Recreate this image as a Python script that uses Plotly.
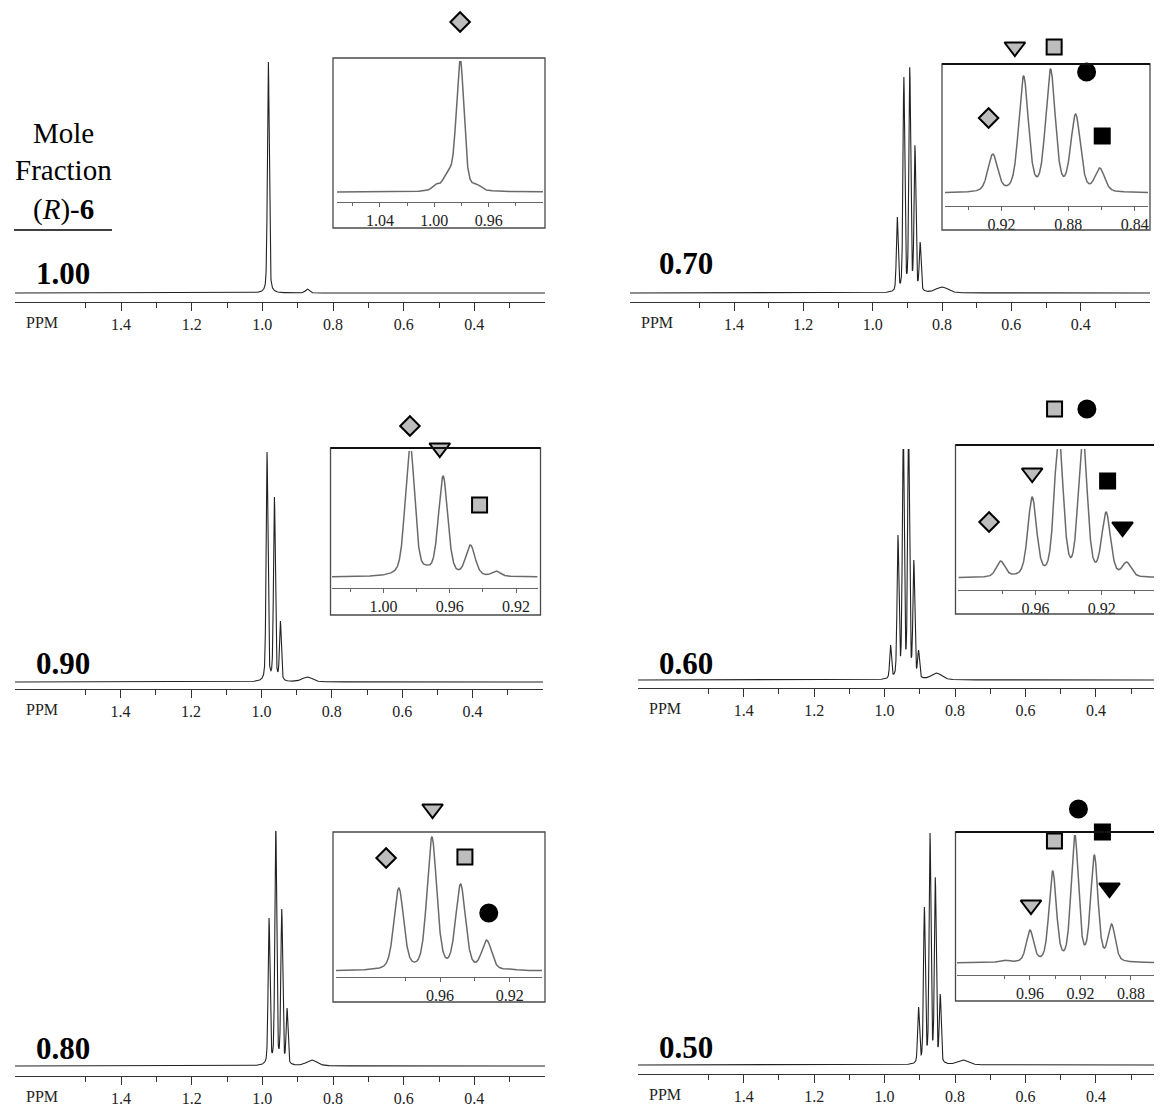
import numpy as np
import plotly.graph_objects as go

W, H = 1162, 1106
OX, OY = 8, 8  # page body margin of the browser

# ---------------- data ----------------
fractions = ["1.00", "0.70", "0.90", "0.60", "0.80", "0.50"]

main_major = [1.4, 1.2, 1.0, 0.8, 0.6, 0.4]
main_minor = [1.5, 1.3, 1.1, 0.9, 0.7, 0.5, 0.3]

# main spectra: peak positions (ppm), observed heights, widths (ppm)
m100_ppm = [0.983, 0.991, 0.971, 0.873]
m100_h = [231, 10, 5, 4]
m100_w = [0.006, 0.012, 0.012, 0.012]

m070_ppm = [0.929, 0.910, 0.893, 0.878, 0.863, 0.800]
m070_h = [76, 216, 226, 148, 51, 6]
m070_w = [0.006, 0.006, 0.006, 0.006, 0.006, 0.04]

m090_ppm = [0.984, 0.963, 0.946, 0.870]
m090_h = [230, 185, 61, 5]
m090_w = [0.006, 0.006, 0.006, 0.035]

m060_ppm = [0.983, 0.962, 0.947, 0.932, 0.917, 0.9036, 0.853]
m060_h = [35, 145, 260, 260, 120, 30, 7]
m060_w = [0.006, 0.006, 0.006, 0.006, 0.006, 0.006, 0.035]

m080_ppm = [0.981, 0.962, 0.945, 0.930, 0.860]
m080_h = [148, 245, 157, 58, 6]
m080_w = [0.006, 0.006, 0.006, 0.006, 0.035]

m050_ppm = [0.9036, 0.887, 0.871, 0.856, 0.842, 0.777]
m050_h = [58, 158, 232, 188, 71, 5]
m050_w = [0.006, 0.006, 0.006, 0.006, 0.006, 0.035]

# inset spectra
i100_ppm = [0.981, 0.990, 0.999, 0.969]
i100_h = [135, 22, 8, 8]
i100_w = [0.0066, 0.008, 0.006, 0.008]
i100_major = [1.04, 1.00, 0.96]
i100_minor = [1.06, 1.02, 0.98, 0.94]

i070_ppm = [0.9253, 0.9068, 0.8906, 0.8755, 0.861]
i070_h = [39, 117, 124, 79, 25]
i070_w = [0.0068, 0.0068, 0.0068, 0.0068, 0.0068]
i070_major = [0.92, 0.88, 0.84]
i070_minor = [0.94, 0.90, 0.86]

i090_ppm = [0.984, 0.964, 0.9475, 0.932, 0.974, 0.9924]
i090_h = [135, 101, 32, 6, 12, 8]
i090_w = [0.0066, 0.0066, 0.0066, 0.006, 0.006, 0.006]
i090_major = [1.00, 0.96, 0.92]
i090_minor = [1.02, 0.98, 0.94]

i060_ppm = [0.981, 0.962, 0.946, 0.9315, 0.9174, 0.905]
i060_h = [17, 81, 145, 145, 66, 16]
i060_w = [0.0062, 0.0062, 0.0062, 0.0062, 0.0062, 0.0062]
i060_major = [0.96, 0.92]
i060_minor = [0.98, 0.94, 0.90]

i080_ppm = [0.9837, 0.9647, 0.9482, 0.9332, 0.919]
i080_h = [83, 134, 87, 31, 2]
i080_w = [0.0066, 0.0066, 0.0066, 0.0066, 0.006]
i080_major = [0.96, 0.92]
i080_minor = [0.98, 0.94]

i050_ppm = [0.981, 0.960, 0.942, 0.9245, 0.909, 0.8953]
i050_h = [3, 33, 92, 129, 108, 39]
i050_w = [0.008, 0.0068, 0.0068, 0.0068, 0.0068, 0.0068]
i050_major = [0.96, 0.92, 0.88]
i050_minor = [0.98, 0.94, 0.90, 0.86]

# peak-label markers (symbol, ppm, height above inset baseline, filled black?)
k100_sym = ["diamond"]
k100_ppm = [0.981]
k100_y = [170]
k100_blk = [False]

k070_sym = ["triangle-down", "square", "circle", "diamond", "square"]
k070_ppm = [0.912, 0.8884, 0.8689, 0.9278, 0.8595]
k070_y = [146, 146, 121, 75, 57]
k070_blk = [False, False, True, False, True]

k090_sym = ["diamond", "triangle-down", "square"]
k090_ppm = [0.984, 0.966, 0.942]
k090_y = [151, 129, 72]
k090_blk = [False, False, False]

k060_sym = ["square", "circle", "triangle-down", "square", "diamond", "triangle-down"]
k060_ppm = [0.9485, 0.929, 0.962, 0.9165, 0.988, 0.9075]
k060_y = [169, 169, 105, 97, 56, 51]
k060_blk = [False, True, False, True, False, True]

k080_sym = ["triangle-down", "diamond", "square", "circle"]
k080_ppm = [0.9643, 0.991, 0.9457, 0.932]
k080_y = [162, 113, 114, 58]
k080_blk = [False, False, False, True]

k050_sym = ["circle", "square", "square", "triangle-down", "triangle-down"]
k050_ppm = [0.9216, 0.9026, 0.9406, 0.897, 0.9592]
k050_y = [154, 131, 122, 75, 58]
k050_blk = [True, True, False, True, False]

# ---------------- layout geometry (screen pixels) ----------------
main_geo = [  # x0, x1, axis_y, top_y, base_y, range
    (15, 545, 302, 58, 293, [1.70, 0.20]),
    (630, 1150, 302, 62, 293, [1.70, 0.20]),
    (15, 543, 689, 448, 682, [1.70, 0.20]),
    (638, 1162, 688, 449, 680, [1.70, 0.2125]),
    (15, 545, 1076, 831, 1066, [1.70, 0.20]),
    (638, 1162, 1074, 832, 1065, [1.70, 0.2125]),
]
inset_geo = [  # box(x0,y0,x1,y1), axis x0,x1, axis_y, top_y, base_y, range, dark top edge
    ((333, 58, 545, 228), 337, 543, 202, 61, 192, [1.0716, 0.920], False),
    ((942, 64, 1150, 230), 945, 1148, 206, 67, 193, [0.954, 0.832], True),
    ((330.5, 448, 540.5, 615), 332, 537.6, 588, 451, 577, [1.031, 0.907], True),
    ((955.5, 445, 1175, 614), 958.4, 1162, 590, 449, 578, [1.0065, 0.8837], True),
    ((333, 832, 545, 1002), 336, 542, 977, 835, 971, [1.0198, 0.9014], False),
    ((955.5, 832, 1175, 1001), 957, 1162, 975, 835, 963, [1.0178, 0.8554], True),
]
label_pos = [(63, 274), (686, 263), (63, 663), (686, 663), (63, 1048), (686, 1047)]

mains = [(m100_ppm, m100_h, m100_w), (m070_ppm, m070_h, m070_w), (m090_ppm, m090_h, m090_w),
         (m060_ppm, m060_h, m060_w), (m080_ppm, m080_h, m080_w), (m050_ppm, m050_h, m050_w)]
insets = [(i100_ppm, i100_h, i100_w, i100_major, i100_minor),
          (i070_ppm, i070_h, i070_w, i070_major, i070_minor),
          (i090_ppm, i090_h, i090_w, i090_major, i090_minor),
          (i060_ppm, i060_h, i060_w, i060_major, i060_minor),
          (i080_ppm, i080_h, i080_w, i080_major, i080_minor),
          (i050_ppm, i050_h, i050_w, i050_major, i050_minor)]
marks = [(k100_sym, k100_ppm, k100_y, k100_blk), (k070_sym, k070_ppm, k070_y, k070_blk),
         (k090_sym, k090_ppm, k090_y, k090_blk), (k060_sym, k060_ppm, k060_y, k060_blk),
         (k080_sym, k080_ppm, k080_y, k080_blk), (k050_sym, k050_ppm, k050_y, k050_blk)]

FONT = "Liberation Serif"
AX = "#333333"


def line_shape(x, c, w, eta=0.35):
    hw = w / 2.0
    u = (x - c) / hw
    return eta / (1 + u * u) + (1 - eta) * np.exp(-np.log(2) * u * u)


def spectrum(x, ppm, h, w):
    ppm = np.asarray(ppm, float)
    h = np.asarray(h, float)
    w = np.asarray(w, float)
    M = np.array([[line_shape(pi, pj, wj) for pj, wj in zip(ppm, w)] for pi in ppm])
    a = np.clip(np.linalg.solve(M, h), 0, None)
    y = np.zeros_like(x)
    for aj, pj, wj in zip(a, ppm, w):
        y += aj * line_shape(x, pj, wj)
    return y


def px(x):
    return (x - OX) / W


def py(y):
    return 1 - (y - OY) / H


def xd(a, b):
    return [max(px(a), 0), min(px(b), 1)]


def yd(top, bottom):
    return [max(py(bottom), 0), min(py(top), 1)]


fig = go.Figure()
layout = dict(width=W, height=H, margin=dict(l=0, r=0, t=0, b=0),
              paper_bgcolor="white", plot_bgcolor="rgba(0,0,0,0)", showlegend=False)
shapes = []
annotations = []
sizes = {"diamond": 15, "triangle-down": 18, "square": 15, "circle": 17}

for i in range(6):
    nm = 2 * i + 1
    ni = 2 * i + 2
    nk = 13 + i
    # ---- main panel ----
    x0, x1, ax_y, top_y, base_y, rng = main_geo[i]
    ppm, hh, ww = mains[i]
    xs = np.linspace(rng[0], rng[1], 5000)
    fig.add_trace(go.Scatter(x=xs, y=spectrum(xs, ppm, hh, ww), mode="lines",
                             line=dict(color="#222222", width=1.1), hoverinfo="skip",
                             xaxis="x%d" % nm, yaxis="y%d" % nm))
    layout["xaxis%d" % nm] = dict(
        domain=xd(x0, x1), range=rng, anchor="y%d" % nm, showline=True, linecolor=AX,
        linewidth=1.4, ticks="outside", ticklen=8, tickwidth=1.2, tickcolor=AX,
        tickmode="array", tickvals=main_major, ticktext=["%.1f" % v for v in main_major],
        minor=dict(tickmode="array", tickvals=main_minor, ticks="outside", ticklen=5,
                   tickwidth=1.2, tickcolor=AX),
        tickfont=dict(family=FONT, size=16, color="#222"),
        showgrid=False, zeroline=False, fixedrange=True)
    layout["yaxis%d" % nm] = dict(domain=yd(top_y, ax_y), range=[base_y - ax_y, base_y - top_y],
                                  visible=False, anchor="x%d" % nm, fixedrange=True)
    annotations.append(dict(text="PPM", xref="paper", yref="paper", x=px(x0 + 27),
                            y=py(ax_y + 20), xanchor="center", yanchor="middle", showarrow=False,
                            font=dict(family=FONT, size=16, color="#222")))
    lx, ly = label_pos[i]
    annotations.append(dict(text="<b>%s</b>" % fractions[i], xref="paper", yref="paper",
                            x=px(lx), y=py(ly), xanchor="center", yanchor="middle",
                            showarrow=False, font=dict(family=FONT, size=31, color="black")))

    # ---- inset ----
    box, ax0, ax1, iax_y, itop_y, ibase_y, irng, dark_top = inset_geo[i]
    ippm, ih, iw, imaj, imin = insets[i]
    xi = np.linspace(irng[0], irng[1], 1500)
    fig.add_trace(go.Scatter(x=xi, y=spectrum(xi, ippm, ih, iw), mode="lines",
                             line=dict(color="#6a6a6a", width=1.5), hoverinfo="skip",
                             xaxis="x%d" % ni, yaxis="y%d" % ni))
    layout["xaxis%d" % ni] = dict(
        domain=xd(ax0, ax1), range=irng, anchor="y%d" % ni, showline=True, linecolor="#666",
        linewidth=1.3, ticks="outside", ticklen=4, tickwidth=1.1, tickcolor="#666",
        tickmode="array", tickvals=imaj, ticktext=["%.2f" % v for v in imaj],
        minor=dict(tickmode="array", tickvals=imin, ticks="outside", ticklen=3,
                   tickwidth=1.1, tickcolor="#666"),
        tickfont=dict(family=FONT, size=16, color="#222"),
        showgrid=False, zeroline=False, fixedrange=True)
    layout["yaxis%d" % ni] = dict(domain=yd(itop_y, iax_y), range=[ibase_y - iax_y, ibase_y - itop_y],
                                  visible=False, anchor="x%d" % ni, fixedrange=True)
    bx0, by0, bx1, by1 = box
    shapes.append(dict(type="rect", xref="paper", yref="paper", x0=px(bx0), x1=px(bx1),
                       y0=py(by1), y1=py(by0), line=dict(color="#4a4a4a", width=1.3),
                       fillcolor="rgba(0,0,0,0)"))
    if dark_top:
        shapes.append(dict(type="line", xref="paper", yref="paper", x0=px(bx0), x1=px(bx1),
                           y0=py(by0), y1=py(by0), line=dict(color="#111111", width=1.8)))

    # ---- markers: same x scale as inset, taller y area with same pixel scale ----
    mtop = max(itop_y - 80, OY)
    layout["yaxis%d" % nk] = dict(domain=yd(mtop, iax_y), range=[ibase_y - iax_y, ibase_y - mtop],
                                  visible=False, anchor="x%d" % ni, fixedrange=True)
    syms, kp, ky, kb = marks[i]
    fig.add_trace(go.Scatter(
        x=kp, y=ky, mode="markers", cliponaxis=False, hoverinfo="skip",
        marker=dict(symbol=syms, size=[sizes[s] for s in syms],
                    color=["#000000" if b else "#bdbdbd" for b in kb],
                    line=dict(color="#000000", width=2), opacity=1),
        xaxis="x%d" % ni, yaxis="y%d" % nk))

# Mole fraction header
for txt, yy in [("Mole", 133), ("Fraction", 170), ("(<i>R</i>)-<b>6</b>", 209)]:
    annotations.append(dict(text=txt, xref="paper", yref="paper", x=px(63), y=py(yy),
                            xanchor="center", yanchor="middle", showarrow=False,
                            font=dict(family=FONT, size=29, color="black")))
shapes.append(dict(type="line", xref="paper", yref="paper", x0=px(14), x1=px(112),
                   y0=py(230), y1=py(230), line=dict(color="black", width=1.5)))

layout["shapes"] = shapes
layout["annotations"] = annotations
fig.update_layout(**layout)
fig.write_html("out.html")
